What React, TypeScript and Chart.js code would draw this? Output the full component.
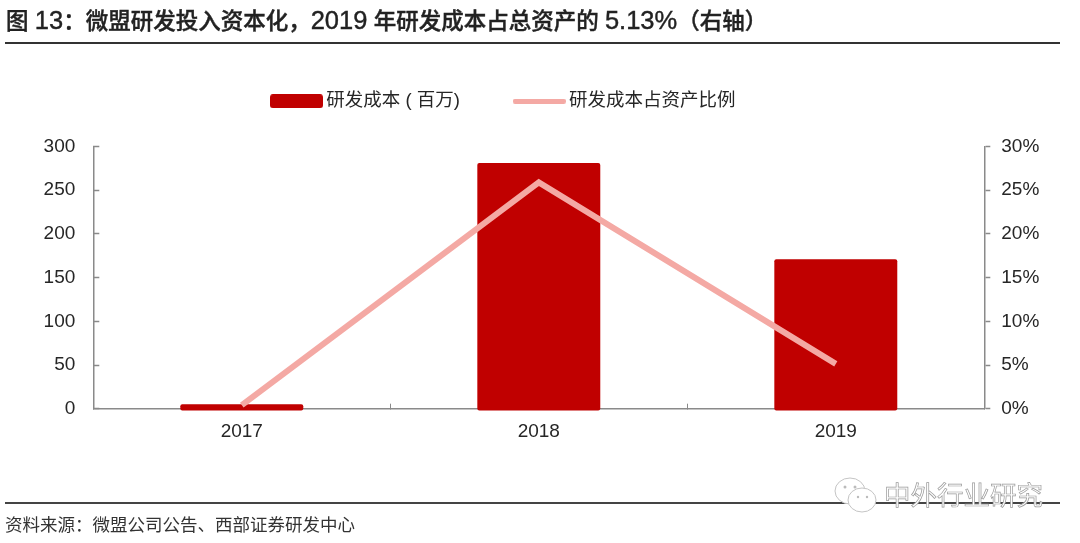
import React, { useEffect, useRef } from "react";
import { Chart, registerables } from "chart.js";

Chart.register(...registerables);

const titleText = "图 13：微盟研发投入资本化，2019 年研发成本占总资产的 5.13%（右轴）";
const sourceText = "资料来源：微盟公司公告、西部证券研发中心";
const watermarkText = "中外行业研究";
const categories = ["2017", "2018", "2019"];
const barName = "研发成本 ( 百万)";
const lineName = "研发成本占资产比例";
const rdCost = [5, 281, 171];
const rdShare = [0.4, 25.9, 5.13];

const FONT = '"Liberation Sans", "Noto Sans CJK SC", sans-serif';
const AXIS = "#8a8a8a";
const RED = "#c00000";
const PINK = "#f4a9a4";
const INK = "#262626";

function swatch(h: number, color: string, r: number) {
  const c = document.createElement("canvas");
  c.width = 53;
  c.height = h;
  const g = c.getContext("2d")!;
  g.fillStyle = color;
  g.beginPath();
  g.roundRect(0, 0, 53, h, r);
  g.fill();
  return c;
}

const placeLegend = {
  id: "placeLegend",
  afterLayout(chart: any) {
    const l = chart.legend;
    const pad = l.options.labels.padding;
    l.left = 276 - pad;
    l.right = 1080;
    l.top = 92 - pad;
    l.bottom = 140;
  },
};

export default function App() {
  const ref = useRef<HTMLCanvasElement>(null);
  useEffect(() => {
    const barSwatch = swatch(14, RED, 3);
    const lineSwatch = swatch(5, PINK, 2);
    const chart = new Chart(ref.current!, {
      type: "bar",
      data: {
        labels: categories,
        datasets: [
          {
            type: "bar",
            label: barName,
            data: rdCost,
            yAxisID: "y",
            backgroundColor: RED,
            borderRadius: 2,
            borderSkipped: false,
            barPercentage: 0.414,
            categoryPercentage: 1,
            base: -2,
            clip: false,
            order: 1,
          },
          {
            type: "line",
            label: lineName,
            data: rdShare,
            yAxisID: "y2",
            borderColor: PINK,
            borderWidth: 6,
            pointRadius: 0,
            tension: 0,
            order: 0,
          },
        ],
      },
      options: {
        responsive: false,
        animation: false,
        layout: { padding: { top: 59, left: 0, right: 0, bottom: 0 } },
        plugins: {
          tooltip: { enabled: false },
          legend: {
            position: "top",
            align: "start",
            labels: {
              usePointStyle: true,
              pointStyleWidth: 41,
              padding: 59,
              color: INK,
              font: { family: FONT, size: 18.5, lineHeight: 1 },
              sort: (a: any, b: any) => a.datasetIndex - b.datasetIndex,
              generateLabels: (c: any) =>
                Chart.defaults.plugins.legend.labels.generateLabels(c).map((it: any) => ({
                  ...it,
                  pointStyle: it.datasetIndex === 0 ? barSwatch : lineSwatch,
                })),
            },
          },
        },
        scales: {
          x: {
            offset: true,
            afterFit: (s: any) => {
              s.height = 543 - 408.7;
            },
            border: { color: AXIS, width: 1.5 },
            grid: {
              offset: true,
              drawOnChartArea: false,
              tickLength: -5,
              tickColor: AXIS,
              tickWidth: 1,
            },
            ticks: { color: INK, padding: 17, maxRotation: 0, font: { family: FONT, size: 19 } },
          },
          y: {
            position: "left",
            min: 0,
            max: 300,
            afterFit: (s: any) => {
              s.width = 93.3;
            },
            border: { color: AXIS, width: 1.5 },
            grid: { drawOnChartArea: false, tickLength: -6, tickColor: AXIS, tickWidth: 1.5 },
            ticks: { stepSize: 50, color: INK, padding: 24, font: { family: FONT, size: 19 } },
          },
          y2: {
            position: "right",
            min: 0,
            max: 30,
            afterFit: (s: any) => {
              s.width = 1080 - 984.3;
            },
            border: { color: AXIS, width: 1.5 },
            grid: { drawOnChartArea: false, tickLength: 6, tickColor: AXIS, tickWidth: 1.5 },
            ticks: {
              stepSize: 5,
              color: INK,
              padding: 11,
              font: { family: FONT, size: 19 },
              callback: (v: any) => v + "%",
            },
          },
        },
      },
      plugins: [placeLegend],
    } as any);
    return () => chart.destroy();
  }, []);

  const abs = (o: React.CSSProperties): React.CSSProperties => ({ position: "absolute", ...o });
  return (
    <div style={{ position: "fixed", left: 0, top: 0, width: 1080, height: 543, background: "#fff", overflow: "hidden", fontFamily: FONT }}>
      <canvas ref={ref} width={1080} height={543} style={abs({ left: 0, top: 0, display: "block" })} />
      <div style={abs({ left: 6, top: 6, fontSize: 22.5, fontWeight: 500, WebkitTextStroke: "0.4px #222", color: "#222", whiteSpace: "nowrap", lineHeight: "28px" })}>
        {titleText.split(/([0-9.%]+)/).map((part, i) =>
          i % 2 ? (
            <span key={i} style={{ fontSize: 25.5 }}>{part}</span>
          ) : (
            <span key={i}>{part}</span>
          )
        )}
      </div>
      <div style={abs({ left: 5, top: 42, width: 1055, height: 2, background: "#333" })} />
      <div style={abs({ left: 5, top: 502, width: 1055, height: 2, background: "#444" })} />
      <div style={abs({ left: 5, top: 514, fontSize: 17.5, color: "#333", whiteSpace: "nowrap", lineHeight: "22px" })}>{sourceText}</div>
      <svg width="46" height="40" style={abs({ left: 833, top: 476 })}>
        <ellipse cx="17" cy="15" rx="15" ry="13" fill="#fff" stroke="#c4c4c4" />
        <ellipse cx="29" cy="24" rx="14" ry="12" fill="#fff" stroke="#c4c4c4" />
        <circle cx="12" cy="11" r="1.5" fill="#bbb" />
        <circle cx="22" cy="11" r="1.5" fill="#bbb" />
        <circle cx="25" cy="21" r="1.2" fill="#bbb" />
        <circle cx="34" cy="21" r="1.2" fill="#bbb" />
      </svg>
      <div style={abs({ left: 884, top: 480, fontSize: 26.5, color: "#fff", WebkitTextStroke: "0.7px #9a9a9a", whiteSpace: "nowrap", lineHeight: "32px" })}>{watermarkText}</div>
    </div>
  );
}
